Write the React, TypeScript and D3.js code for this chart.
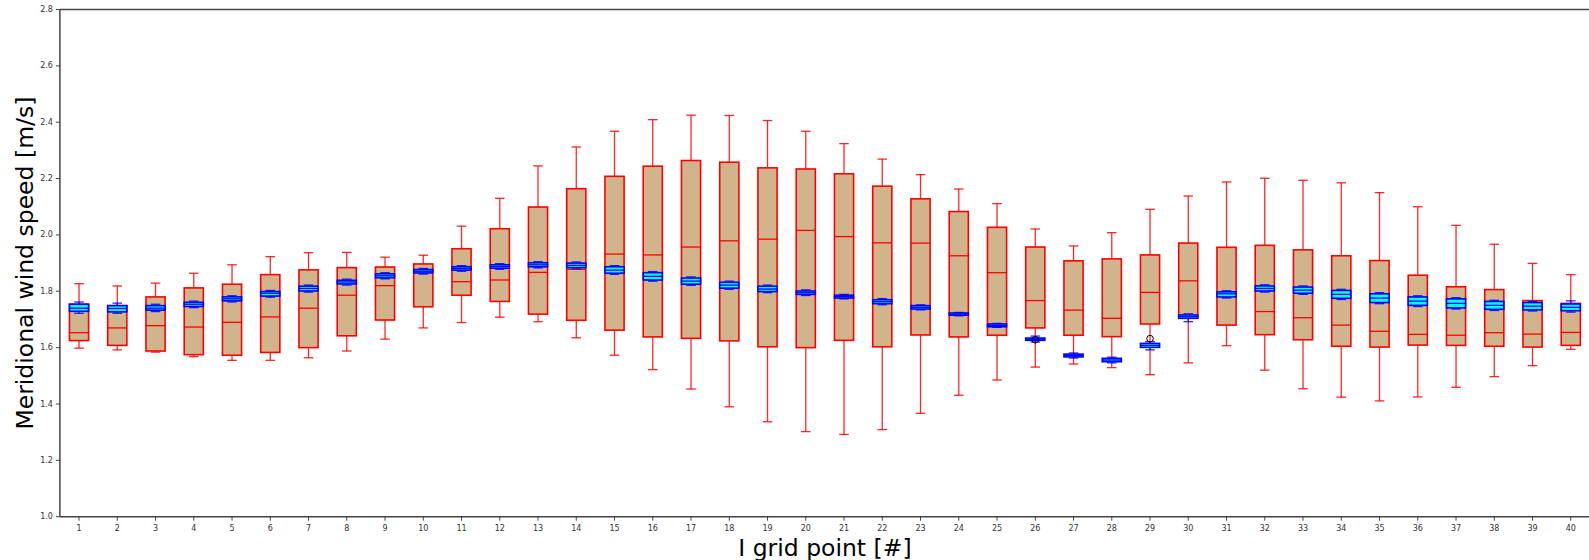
import React from "react";
import * as d3 from "d3";

const categories: string[] = Array.from({ length: 40 }, (_, i) => String(i + 1));

// Wide distribution (tan boxes, red edges): [whiskerLow, q1, median, q3, whiskerHigh]
const redLow = [1.598,1.592,1.584,1.568,1.555,1.555,1.564,1.588,1.630,1.670,1.689,1.708,1.692,1.635,1.573,1.522,1.453,1.390,1.337,1.302,1.292,1.309,1.367,1.431,1.485,1.531,1.542,1.529,1.504,1.546,1.607,1.520,1.454,1.424,1.411,1.425,1.459,1.497,1.536,1.594];
const redQ1 = [1.625,1.608,1.588,1.575,1.573,1.583,1.600,1.642,1.698,1.745,1.786,1.764,1.719,1.697,1.662,1.638,1.633,1.624,1.603,1.600,1.626,1.603,1.645,1.638,1.644,1.670,1.644,1.639,1.684,1.705,1.680,1.646,1.628,1.605,1.602,1.609,1.608,1.605,1.602,1.608];
const redMed = [1.653,1.670,1.678,1.673,1.690,1.709,1.740,1.786,1.820,1.868,1.834,1.840,1.867,1.878,1.932,1.929,1.957,1.979,1.985,2.016,1.994,1.972,1.971,1.926,1.866,1.767,1.733,1.704,1.796,1.837,1.798,1.728,1.706,1.680,1.658,1.647,1.644,1.653,1.648,1.654];
const redQ3 = [1.754,1.749,1.780,1.812,1.825,1.859,1.876,1.884,1.886,1.897,1.951,2.022,2.099,2.164,2.208,2.244,2.264,2.258,2.238,2.234,2.217,2.173,2.128,2.083,2.027,1.957,1.908,1.915,1.929,1.971,1.956,1.963,1.947,1.926,1.909,1.857,1.816,1.806,1.767,1.757];
const redHigh = [1.827,1.819,1.829,1.864,1.894,1.923,1.937,1.938,1.921,1.928,2.031,2.130,2.245,2.312,2.368,2.409,2.425,2.424,2.406,2.368,2.324,2.269,2.214,2.163,2.111,2.021,1.961,2.008,2.091,2.138,2.188,2.201,2.194,2.185,2.150,2.100,2.034,1.967,1.899,1.859];

// Narrow distribution (cyan boxes, blue edges)
const blueLow = [1.722,1.722,1.728,1.742,1.762,1.779,1.797,1.822,1.844,1.861,1.871,1.878,1.883,1.880,1.860,1.836,1.821,1.807,1.795,1.785,1.773,1.752,1.734,1.713,1.672,1.620,1.563,1.546,1.592,1.692,1.776,1.797,1.789,1.771,1.756,1.746,1.737,1.732,1.730,1.726];
const blueQ1 = [1.729,1.727,1.733,1.746,1.766,1.783,1.801,1.826,1.848,1.865,1.875,1.882,1.887,1.884,1.864,1.840,1.825,1.811,1.799,1.789,1.776,1.756,1.737,1.715,1.674,1.626,1.567,1.550,1.601,1.704,1.780,1.801,1.793,1.775,1.760,1.750,1.741,1.736,1.734,1.731];
const blueMed = [1.740,1.739,1.740,1.754,1.773,1.793,1.810,1.833,1.855,1.871,1.881,1.888,1.894,1.892,1.875,1.853,1.836,1.822,1.808,1.795,1.781,1.763,1.743,1.719,1.679,1.630,1.572,1.556,1.608,1.710,1.791,1.810,1.804,1.789,1.776,1.765,1.757,1.750,1.747,1.743];
const blueQ3 = [1.754,1.749,1.749,1.761,1.780,1.799,1.818,1.839,1.862,1.877,1.887,1.894,1.901,1.900,1.887,1.866,1.847,1.832,1.818,1.801,1.786,1.770,1.749,1.723,1.684,1.634,1.577,1.562,1.615,1.716,1.798,1.819,1.815,1.803,1.791,1.780,1.773,1.764,1.760,1.755];
const blueHigh = [1.762,1.758,1.754,1.765,1.784,1.803,1.822,1.843,1.866,1.881,1.891,1.898,1.905,1.904,1.891,1.870,1.851,1.836,1.822,1.805,1.789,1.774,1.752,1.725,1.686,1.641,1.581,1.566,1.621,1.720,1.802,1.823,1.819,1.807,1.795,1.784,1.777,1.768,1.764,1.766];

const flierCats = [26, 29];
const flierValues = [1.628, 1.632];

const yTicks = [1.0, 1.2, 1.4, 1.6, 1.8, 2.0, 2.2, 2.4, 2.6, 2.8];

const W = 1589;
const H = 560;
const LEFT = 59.9;
const RIGHT = 1589.9;
const TOP = 9.5;
const BOTTOM = 516.7;

export default function App() {
  const x = d3.scaleLinear().domain([0.5, 40.5]).range([LEFT, RIGHT]);
  const y = d3.scaleLinear().domain([1.0, 2.8]).range([BOTTOM, TOP]);
  const bw = x(1.5) - x(1.0);
  const cap = bw / 2;
  const font = "DejaVu Sans, sans-serif";

  const drawBox = (
    i: number,
    lo: number[], q1: number[], med: number[], q3: number[], hi: number[],
    edge: string, fill: string, medColor: string, key: string
  ) => {
    const cx = x(i + 1);
    return (
      <g key={key + i}>
        <line x1={cx} x2={cx} y1={y(q1[i])} y2={y(lo[i])} stroke={edge} strokeWidth={1.3} strokeOpacity={0.85} />
        <line x1={cx} x2={cx} y1={y(q3[i])} y2={y(hi[i])} stroke={edge} strokeWidth={1.3} strokeOpacity={0.85} />
        <line x1={cx - cap / 2} x2={cx + cap / 2} y1={y(lo[i])} y2={y(lo[i])} stroke={edge} strokeWidth={1.3} strokeOpacity={0.85} />
        <line x1={cx - cap / 2} x2={cx + cap / 2} y1={y(hi[i])} y2={y(hi[i])} stroke={edge} strokeWidth={1.3} strokeOpacity={0.85} />
        <rect x={cx - bw / 2} width={bw} y={y(q3[i])} height={Math.max(0.5, y(q1[i]) - y(q3[i]))} fill={fill} stroke={edge} strokeWidth={1.6} />
        <line x1={cx - bw / 2} x2={cx + bw / 2} y1={y(med[i])} y2={y(med[i])} stroke={medColor} strokeWidth={1.3} />
      </g>
    );
  };

  return (
    <svg width={W} height={H} style={{ position: "absolute", left: 0, top: 0, background: "#fff" }}>
      {categories.map((_, i) => drawBox(i, redLow, redQ1, redMed, redQ3, redHigh, "#ff0000", "#d2b48c", "#ff0000", "r"))}
      {categories.map((_, i) => drawBox(i, blueLow, blueQ1, blueMed, blueQ3, blueHigh, "#0000ff", "#00ffff", "#0000ff", "b"))}
      {flierCats.map((c, k) => (
        <circle key={"f" + k} cx={x(c)} cy={y(flierValues[k])} r={3.3} fill="none" stroke="#000" strokeWidth={1} />
      ))}
      <line x1={LEFT} x2={LEFT} y1={TOP} y2={BOTTOM} stroke="#444" strokeWidth={1.5} />
      <line x1={LEFT} x2={RIGHT} y1={BOTTOM} y2={BOTTOM} stroke="#444" strokeWidth={1.5} />
      <line x1={LEFT} x2={RIGHT} y1={TOP} y2={TOP} stroke="#444" strokeWidth={1.5} />
      {yTicks.map((t) => (
        <g key={"yt" + t}>
          <line x1={LEFT - 4} x2={LEFT} y1={y(t)} y2={y(t)} stroke="#444" strokeWidth={1} />
          <text x={LEFT - 7} y={y(t)} dy="0.32em" textAnchor="end" fontSize={8} fill="#333" fontFamily={font}>
            {t.toFixed(1)}
          </text>
        </g>
      ))}
      {categories.map((c, i) => (
        <g key={"xt" + c}>
          <line x1={x(i + 1)} x2={x(i + 1)} y1={BOTTOM} y2={BOTTOM + 4} stroke="#444" strokeWidth={1} />
          <text x={x(i + 1)} y={BOTTOM + 14} textAnchor="middle" fontSize={8} fill="#333" fontFamily={font}>
            {c}
          </text>
        </g>
      ))}
      <text
        transform={`translate(32.5, ${(TOP + BOTTOM) / 2}) rotate(-90)`}
        textAnchor="middle"
        fontSize={23.5}
        fill="#000"
        fontFamily={font}
      >
        Meridional wind speed [m/s]
      </text>
      <text x={(LEFT + RIGHT) / 2} y={556} textAnchor="middle" fontSize={23.5} fill="#000" fontFamily={font}>
        I grid point [#]
      </text>
    </svg>
  );
}
